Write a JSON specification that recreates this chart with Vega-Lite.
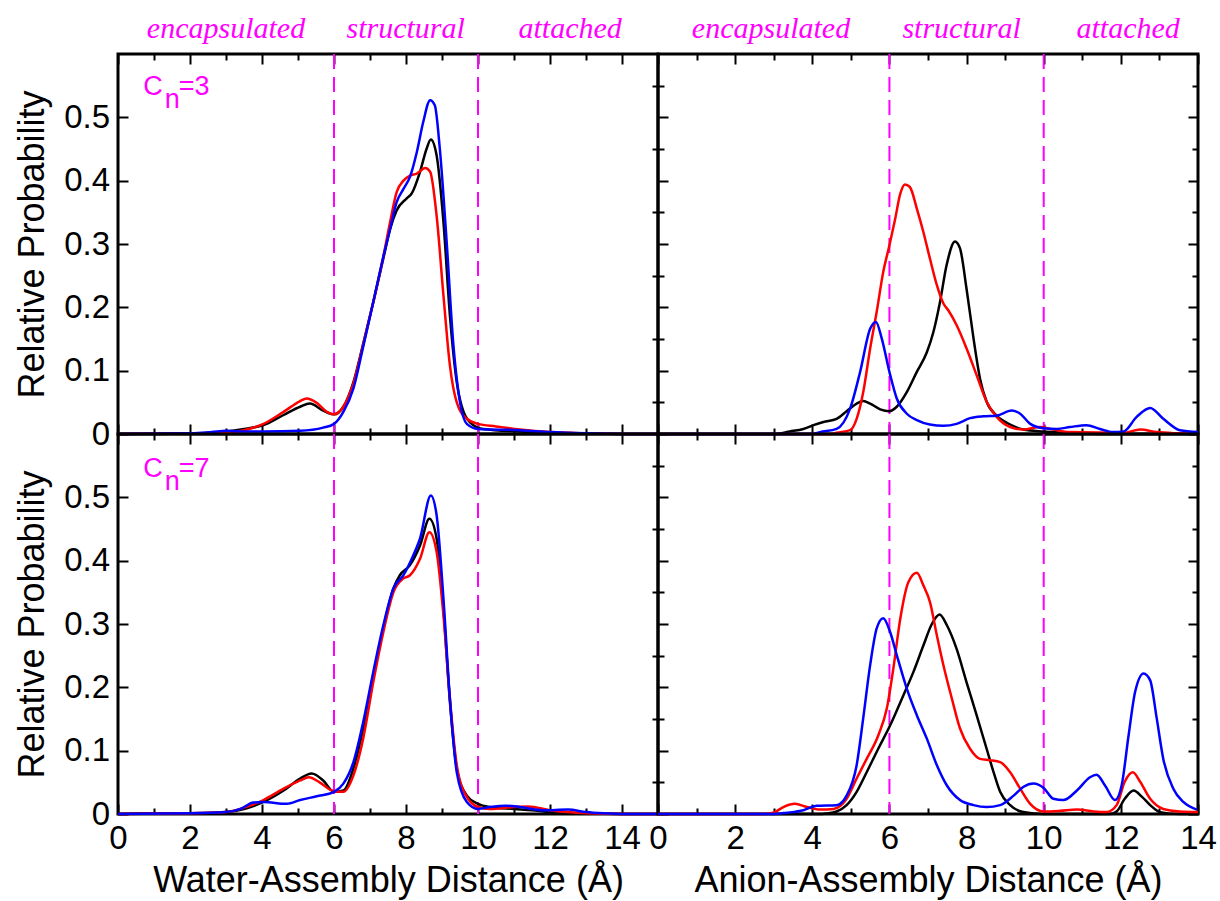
{
"$schema": "https://vega.github.io/schema/vega-lite/v6.json",
"autosize": {"type": "pad"},
"padding": {"left": 12, "top": 12, "right": 20, "bottom": 4},
"background": "white",
"config": {
  "view": {"stroke": "#000000", "strokeWidth": 3},
  "axis": {"domain": false, "ticks": false, "grid": true, "gridColor": "#000000", "gridWidth": 2, "gridOpacity": 1, "labelFont": "Liberation Sans", "labelFontSize": 33, "labelColor": "#000000", "titleFont": "Liberation Sans", "titleFontSize": 36, "titleColor": "#000000", "titleFontWeight": "normal", "labelFlush": false, "labelOverlap": false},
  "axisX": {"grid": true, "gridColor": "#000000", "gridWidth": 2, "gridOpacity": 1, "ticks": false, "domain": false},
  "axisY": {"grid": true, "gridColor": "#000000", "gridWidth": 2, "gridOpacity": 1, "ticks": false, "domain": false}
},
"datasets": {
  "bounds": [{"v": 6}, {"v": 10}],
  "regionsL": [{"label": "encapsulated", "x": 3.0}, {"label": "structural", "x": 7.99}, {"label": "attached", "x": 12.56}],
  "regionsR": [{"label": "encapsulated", "x": 2.93}, {"label": "structural", "x": 7.87}, {"label": "attached", "x": 12.19}],
  "cn3": [{"a": "C", "b": "n", "c": "=3"}],
  "cn7": [{"a": "C", "b": "n", "c": "=7"}],
  "tl": [
{"s":"s1","d":0,"p":0},{"s":"s1","d":1,"p":0},{"s":"s1","d":2,"p":0.001},{"s":"s1","d":2.5,"p":0.002},{"s":"s1","d":3,"p":0.004},{"s":"s1","d":3.5,"p":0.008},{"s":"s1","d":4.04,"p":0.014},{"s":"s1","d":4.6,"p":0.03},{"s":"s1","d":5.06,"p":0.043},{"s":"s1","d":5.33,"p":0.048},{"s":"s1","d":5.7,"p":0.037},{"s":"s1","d":6,"p":0.031},{"s":"s1","d":6.26,"p":0.043},{"s":"s1","d":6.54,"p":0.082},{"s":"s1","d":6.8,"p":0.14},{"s":"s1","d":7.09,"p":0.208},{"s":"s1","d":7.37,"p":0.277},{"s":"s1","d":7.56,"p":0.324},{"s":"s1","d":7.74,"p":0.353},{"s":"s1","d":8.02,"p":0.372},{"s":"s1","d":8.16,"p":0.38},{"s":"s1","d":8.39,"p":0.414},{"s":"s1","d":8.57,"p":0.45},{"s":"s1","d":8.69,"p":0.465},{"s":"s1","d":8.85,"p":0.44},{"s":"s1","d":9.04,"p":0.335},{"s":"s1","d":9.22,"p":0.187},{"s":"s1","d":9.41,"p":0.082},{"s":"s1","d":9.6,"p":0.035},{"s":"s1","d":9.87,"p":0.014},{"s":"s1","d":10.15,"p":0.008},{"s":"s1","d":11.17,"p":0.004},{"s":"s1","d":12,"p":0.002},{"s":"s1","d":13,"p":0.001},{"s":"s1","d":14,"p":0},{"s":"s1","d":15,"p":0},
{"s":"s2","d":0,"p":0},{"s":"s2","d":2,"p":0.001},{"s":"s2","d":3,"p":0.002},{"s":"s2","d":3.5,"p":0.006},{"s":"s2","d":4.04,"p":0.016},{"s":"s2","d":4.6,"p":0.035},{"s":"s2","d":5.06,"p":0.052},{"s":"s2","d":5.24,"p":0.056},{"s":"s2","d":5.5,"p":0.05},{"s":"s2","d":5.8,"p":0.035},{"s":"s2","d":6,"p":0.031},{"s":"s2","d":6.26,"p":0.043},{"s":"s2","d":6.54,"p":0.08},{"s":"s2","d":6.8,"p":0.138},{"s":"s2","d":7.09,"p":0.208},{"s":"s2","d":7.37,"p":0.28},{"s":"s2","d":7.56,"p":0.335},{"s":"s2","d":7.74,"p":0.382},{"s":"s2","d":7.93,"p":0.4},{"s":"s2","d":8.11,"p":0.408},{"s":"s2","d":8.3,"p":0.411},{"s":"s2","d":8.53,"p":0.42},{"s":"s2","d":8.67,"p":0.414},{"s":"s2","d":8.85,"p":0.345},{"s":"s2","d":9.04,"p":0.219},{"s":"s2","d":9.22,"p":0.108},{"s":"s2","d":9.41,"p":0.05},{"s":"s2","d":9.69,"p":0.024},{"s":"s2","d":10,"p":0.016},{"s":"s2","d":10.5,"p":0.012},{"s":"s2","d":11.17,"p":0.007},{"s":"s2","d":12,"p":0.003},{"s":"s2","d":13,"p":0.001},{"s":"s2","d":14,"p":0},{"s":"s2","d":15,"p":0},
{"s":"s3","d":0,"p":0},{"s":"s3","d":2,"p":0.001},{"s":"s3","d":2.6,"p":0.003},{"s":"s3","d":3,"p":0.005},{"s":"s3","d":3.5,"p":0.004},{"s":"s3","d":4.04,"p":0.004},{"s":"s3","d":5.06,"p":0.005},{"s":"s3","d":5.7,"p":0.01},{"s":"s3","d":6,"p":0.016},{"s":"s3","d":6.26,"p":0.035},{"s":"s3","d":6.54,"p":0.072},{"s":"s3","d":6.8,"p":0.135},{"s":"s3","d":7.09,"p":0.208},{"s":"s3","d":7.37,"p":0.28},{"s":"s3","d":7.56,"p":0.324},{"s":"s3","d":7.74,"p":0.366},{"s":"s3","d":7.93,"p":0.387},{"s":"s3","d":8.11,"p":0.406},{"s":"s3","d":8.3,"p":0.445},{"s":"s3","d":8.48,"p":0.493},{"s":"s3","d":8.67,"p":0.527},{"s":"s3","d":8.8,"p":0.519},{"s":"s3","d":8.94,"p":0.45},{"s":"s3","d":9.13,"p":0.303},{"s":"s3","d":9.31,"p":0.145},{"s":"s3","d":9.5,"p":0.05},{"s":"s3","d":9.69,"p":0.016},{"s":"s3","d":10,"p":0.008},{"s":"s3","d":11.17,"p":0.006},{"s":"s3","d":12,"p":0.003},{"s":"s3","d":13,"p":0.001},{"s":"s3","d":14,"p":0},{"s":"s3","d":15,"p":0}
  ],
  "bl": [
{"s":"s1","d":0,"p":0},{"s":"s1","d":1,"p":0.001},{"s":"s1","d":2,"p":0.001},{"s":"s1","d":3,"p":0.003},{"s":"s1","d":3.5,"p":0.008},{"s":"s1","d":4.04,"p":0.019},{"s":"s1","d":4.6,"p":0.037},{"s":"s1","d":5.06,"p":0.056},{"s":"s1","d":5.38,"p":0.064},{"s":"s1","d":5.7,"p":0.053},{"s":"s1","d":6,"p":0.035},{"s":"s1","d":6.26,"p":0.037},{"s":"s1","d":6.54,"p":0.072},{"s":"s1","d":6.81,"p":0.135},{"s":"s1","d":7.09,"p":0.219},{"s":"s1","d":7.37,"p":0.293},{"s":"s1","d":7.65,"p":0.356},{"s":"s1","d":7.83,"p":0.377},{"s":"s1","d":8.11,"p":0.393},{"s":"s1","d":8.39,"p":0.424},{"s":"s1","d":8.65,"p":0.466},{"s":"s1","d":8.85,"p":0.435},{"s":"s1","d":9.04,"p":0.324},{"s":"s1","d":9.22,"p":0.177},{"s":"s1","d":9.41,"p":0.072},{"s":"s1","d":9.69,"p":0.029},{"s":"s1","d":10,"p":0.016},{"s":"s1","d":10.33,"p":0.011},{"s":"s1","d":11,"p":0.008},{"s":"s1","d":11.5,"p":0.006},{"s":"s1","d":12,"p":0.003},{"s":"s1","d":13,"p":0.001},{"s":"s1","d":14,"p":0},{"s":"s1","d":15,"p":0},
{"s":"s2","d":0,"p":0},{"s":"s2","d":2,"p":0.001},{"s":"s2","d":3,"p":0.003},{"s":"s2","d":3.5,"p":0.01},{"s":"s2","d":4.04,"p":0.022},{"s":"s2","d":4.6,"p":0.04},{"s":"s2","d":5.06,"p":0.053},{"s":"s2","d":5.3,"p":0.058},{"s":"s2","d":5.6,"p":0.05},{"s":"s2","d":6,"p":0.036},{"s":"s2","d":6.26,"p":0.035},{"s":"s2","d":6.54,"p":0.061},{"s":"s2","d":6.81,"p":0.119},{"s":"s2","d":7.09,"p":0.208},{"s":"s2","d":7.37,"p":0.287},{"s":"s2","d":7.65,"p":0.35},{"s":"s2","d":7.93,"p":0.372},{"s":"s2","d":8.11,"p":0.377},{"s":"s2","d":8.39,"p":0.403},{"s":"s2","d":8.65,"p":0.445},{"s":"s2","d":8.85,"p":0.414},{"s":"s2","d":9.04,"p":0.314},{"s":"s2","d":9.22,"p":0.182},{"s":"s2","d":9.41,"p":0.077},{"s":"s2","d":9.69,"p":0.027},{"s":"s2","d":10,"p":0.011},{"s":"s2","d":10.33,"p":0.008},{"s":"s2","d":11,"p":0.011},{"s":"s2","d":11.4,"p":0.012},{"s":"s2","d":12,"p":0.006},{"s":"s2","d":12.5,"p":0.003},{"s":"s2","d":13,"p":0.001},{"s":"s2","d":14,"p":0},{"s":"s2","d":15,"p":0},
{"s":"s3","d":0,"p":0},{"s":"s3","d":2,"p":0.001},{"s":"s3","d":3,"p":0.003},{"s":"s3","d":3.4,"p":0.008},{"s":"s3","d":3.76,"p":0.018},{"s":"s3","d":4.04,"p":0.019},{"s":"s3","d":4.69,"p":0.016},{"s":"s3","d":5.06,"p":0.022},{"s":"s3","d":5.52,"p":0.028},{"s":"s3","d":6,"p":0.035},{"s":"s3","d":6.26,"p":0.048},{"s":"s3","d":6.54,"p":0.082},{"s":"s3","d":6.81,"p":0.145},{"s":"s3","d":7.09,"p":0.224},{"s":"s3","d":7.37,"p":0.298},{"s":"s3","d":7.65,"p":0.356},{"s":"s3","d":7.93,"p":0.377},{"s":"s3","d":8.2,"p":0.408},{"s":"s3","d":8.39,"p":0.435},{"s":"s3","d":8.69,"p":0.503},{"s":"s3","d":8.85,"p":0.472},{"s":"s3","d":9.04,"p":0.34},{"s":"s3","d":9.22,"p":0.182},{"s":"s3","d":9.41,"p":0.066},{"s":"s3","d":9.69,"p":0.019},{"s":"s3","d":10,"p":0.008},{"s":"s3","d":10.33,"p":0.011},{"s":"s3","d":10.8,"p":0.013},{"s":"s3","d":11.17,"p":0.011},{"s":"s3","d":11.8,"p":0.006},{"s":"s3","d":12.5,"p":0.007},{"s":"s3","d":13,"p":0.003},{"s":"s3","d":13.5,"p":0.001},{"s":"s3","d":14,"p":0},{"s":"s3","d":15,"p":0}
  ],
  "tr": [
{"s":"s1","d":0,"p":0},{"s":"s1","d":3,"p":0},{"s":"s1","d":3.42,"p":0.004},{"s":"s1","d":3.77,"p":0.008},{"s":"s1","d":4.03,"p":0.014},{"s":"s1","d":4.29,"p":0.019},{"s":"s1","d":4.63,"p":0.024},{"s":"s1","d":4.89,"p":0.036},{"s":"s1","d":5.15,"p":0.048},{"s":"s1","d":5.32,"p":0.052},{"s":"s1","d":5.5,"p":0.048},{"s":"s1","d":5.76,"p":0.039},{"s":"s1","d":6,"p":0.036},{"s":"s1","d":6.19,"p":0.043},{"s":"s1","d":6.45,"p":0.066},{"s":"s1","d":6.71,"p":0.098},{"s":"s1","d":6.97,"p":0.129},{"s":"s1","d":7.14,"p":0.161},{"s":"s1","d":7.31,"p":0.208},{"s":"s1","d":7.48,"p":0.266},{"s":"s1","d":7.7,"p":0.304},{"s":"s1","d":7.83,"p":0.293},{"s":"s1","d":8,"p":0.229},{"s":"s1","d":8.18,"p":0.151},{"s":"s1","d":8.35,"p":0.087},{"s":"s1","d":8.52,"p":0.051},{"s":"s1","d":8.78,"p":0.029},{"s":"s1","d":9.13,"p":0.015},{"s":"s1","d":9.47,"p":0.007},{"s":"s1","d":10,"p":0.004},{"s":"s1","d":10.68,"p":0.002},{"s":"s1","d":11.5,"p":0},{"s":"s1","d":14,"p":0},
{"s":"s2","d":0,"p":0},{"s":"s2","d":4.5,"p":0},{"s":"s2","d":4.63,"p":0.002},{"s":"s2","d":4.98,"p":0.006},{"s":"s2","d":5.15,"p":0.024},{"s":"s2","d":5.32,"p":0.066},{"s":"s2","d":5.5,"p":0.135},{"s":"s2","d":5.67,"p":0.193},{"s":"s2","d":5.84,"p":0.256},{"s":"s2","d":6,"p":0.298},{"s":"s2","d":6.15,"p":0.34},{"s":"s2","d":6.28,"p":0.379},{"s":"s2","d":6.4,"p":0.394},{"s":"s2","d":6.53,"p":0.39},{"s":"s2","d":6.71,"p":0.356},{"s":"s2","d":6.88,"p":0.319},{"s":"s2","d":7.05,"p":0.277},{"s":"s2","d":7.23,"p":0.235},{"s":"s2","d":7.4,"p":0.206},{"s":"s2","d":7.53,"p":0.195},{"s":"s2","d":7.74,"p":0.172},{"s":"s2","d":8,"p":0.135},{"s":"s2","d":8.26,"p":0.093},{"s":"s2","d":8.52,"p":0.051},{"s":"s2","d":8.78,"p":0.027},{"s":"s2","d":9.13,"p":0.011},{"s":"s2","d":9.47,"p":0.007},{"s":"s2","d":9.9,"p":0.011},{"s":"s2","d":10.25,"p":0.007},{"s":"s2","d":10.68,"p":0.003},{"s":"s2","d":12.07,"p":0.002},{"s":"s2","d":12.5,"p":0.007},{"s":"s2","d":12.93,"p":0.003},{"s":"s2","d":13.5,"p":0.001},{"s":"s2","d":14,"p":0},
{"s":"s3","d":0,"p":0},{"s":"s3","d":4,"p":0},{"s":"s3","d":4.2,"p":0.003},{"s":"s3","d":4.63,"p":0.008},{"s":"s3","d":4.98,"p":0.04},{"s":"s3","d":5.24,"p":0.098},{"s":"s3","d":5.5,"p":0.166},{"s":"s3","d":5.65,"p":0.177},{"s":"s3","d":5.8,"p":0.151},{"s":"s3","d":6,"p":0.098},{"s":"s3","d":6.19,"p":0.056},{"s":"s3","d":6.45,"p":0.032},{"s":"s3","d":6.71,"p":0.022},{"s":"s3","d":7.05,"p":0.015},{"s":"s3","d":7.4,"p":0.013},{"s":"s3","d":7.74,"p":0.016},{"s":"s3","d":8.09,"p":0.025},{"s":"s3","d":8.44,"p":0.028},{"s":"s3","d":8.78,"p":0.029},{"s":"s3","d":9.17,"p":0.037},{"s":"s3","d":9.39,"p":0.032},{"s":"s3","d":9.65,"p":0.016},{"s":"s3","d":10,"p":0.009},{"s":"s3","d":10.34,"p":0.008},{"s":"s3","d":10.68,"p":0.011},{"s":"s3","d":11.11,"p":0.014},{"s":"s3","d":11.46,"p":0.008},{"s":"s3","d":11.8,"p":0.003},{"s":"s3","d":12.07,"p":0.004},{"s":"s3","d":12.41,"p":0.027},{"s":"s3","d":12.76,"p":0.041},{"s":"s3","d":13.1,"p":0.024},{"s":"s3","d":13.53,"p":0.006},{"s":"s3","d":14,"p":0.003}
  ],
  "br": [
{"s":"s1","d":0,"p":0},{"s":"s1","d":4.2,"p":0},{"s":"s1","d":4.37,"p":0.001},{"s":"s1","d":4.63,"p":0.004},{"s":"s1","d":4.89,"p":0.014},{"s":"s1","d":5.15,"p":0.035},{"s":"s1","d":5.41,"p":0.066},{"s":"s1","d":5.71,"p":0.103},{"s":"s1","d":6.02,"p":0.14},{"s":"s1","d":6.36,"p":0.187},{"s":"s1","d":6.62,"p":0.224},{"s":"s1","d":6.88,"p":0.266},{"s":"s1","d":7.1,"p":0.3},{"s":"s1","d":7.3,"p":0.315},{"s":"s1","d":7.49,"p":0.298},{"s":"s1","d":7.74,"p":0.261},{"s":"s1","d":8,"p":0.208},{"s":"s1","d":8.26,"p":0.156},{"s":"s1","d":8.52,"p":0.103},{"s":"s1","d":8.7,"p":0.066},{"s":"s1","d":8.87,"p":0.035},{"s":"s1","d":9.13,"p":0.014},{"s":"s1","d":9.47,"p":0.003},{"s":"s1","d":10,"p":0},{"s":"s1","d":11.7,"p":0},{"s":"s1","d":11.89,"p":0.004},{"s":"s1","d":12.1,"p":0.024},{"s":"s1","d":12.33,"p":0.037},{"s":"s1","d":12.55,"p":0.027},{"s":"s1","d":12.76,"p":0.014},{"s":"s1","d":13.02,"p":0.003},{"s":"s1","d":13.5,"p":0},{"s":"s1","d":14,"p":0},
{"s":"s2","d":0,"p":0},{"s":"s2","d":2.7,"p":0},{"s":"s2","d":2.99,"p":0.002},{"s":"s2","d":3.25,"p":0.011},{"s":"s2","d":3.55,"p":0.016},{"s":"s2","d":3.86,"p":0.011},{"s":"s2","d":4.2,"p":0.007},{"s":"s2","d":4.55,"p":0.008},{"s":"s2","d":4.89,"p":0.024},{"s":"s2","d":5.15,"p":0.056},{"s":"s2","d":5.41,"p":0.087},{"s":"s2","d":5.71,"p":0.124},{"s":"s2","d":5.93,"p":0.166},{"s":"s2","d":6.1,"p":0.229},{"s":"s2","d":6.28,"p":0.308},{"s":"s2","d":6.49,"p":0.366},{"s":"s2","d":6.71,"p":0.381},{"s":"s2","d":6.88,"p":0.361},{"s":"s2","d":7.05,"p":0.335},{"s":"s2","d":7.23,"p":0.282},{"s":"s2","d":7.4,"p":0.235},{"s":"s2","d":7.62,"p":0.182},{"s":"s2","d":7.83,"p":0.135},{"s":"s2","d":8.09,"p":0.103},{"s":"s2","d":8.35,"p":0.087},{"s":"s2","d":8.61,"p":0.085},{"s":"s2","d":8.87,"p":0.082},{"s":"s2","d":9.13,"p":0.066},{"s":"s2","d":9.39,"p":0.04},{"s":"s2","d":9.65,"p":0.016},{"s":"s2","d":10,"p":0.004},{"s":"s2","d":10.42,"p":0.005},{"s":"s2","d":10.86,"p":0.007},{"s":"s2","d":11.29,"p":0.004},{"s":"s2","d":11.63,"p":0.003},{"s":"s2","d":11.89,"p":0.014},{"s":"s2","d":12.1,"p":0.051},{"s":"s2","d":12.31,"p":0.066},{"s":"s2","d":12.5,"p":0.051},{"s":"s2","d":12.76,"p":0.024},{"s":"s2","d":13.1,"p":0.008},{"s":"s2","d":13.53,"p":0.004},{"s":"s2","d":14,"p":0.003},
{"s":"s3","d":0,"p":0},{"s":"s3","d":3,"p":0},{"s":"s3","d":3.34,"p":0.002},{"s":"s3","d":3.77,"p":0.006},{"s":"s3","d":4.11,"p":0.013},{"s":"s3","d":4.63,"p":0.014},{"s":"s3","d":4.89,"p":0.029},{"s":"s3","d":5.15,"p":0.077},{"s":"s3","d":5.32,"p":0.151},{"s":"s3","d":5.5,"p":0.235},{"s":"s3","d":5.67,"p":0.293},{"s":"s3","d":5.84,"p":0.309},{"s":"s3","d":6.02,"p":0.287},{"s":"s3","d":6.19,"p":0.251},{"s":"s3","d":6.45,"p":0.198},{"s":"s3","d":6.71,"p":0.156},{"s":"s3","d":6.97,"p":0.119},{"s":"s3","d":7.23,"p":0.077},{"s":"s3","d":7.49,"p":0.045},{"s":"s3","d":7.83,"p":0.022},{"s":"s3","d":8.18,"p":0.014},{"s":"s3","d":8.52,"p":0.011},{"s":"s3","d":8.87,"p":0.014},{"s":"s3","d":9.22,"p":0.029},{"s":"s3","d":9.48,"p":0.043},{"s":"s3","d":9.73,"p":0.048},{"s":"s3","d":10,"p":0.041},{"s":"s3","d":10.25,"p":0.024},{"s":"s3","d":10.51,"p":0.022},{"s":"s3","d":10.86,"p":0.037},{"s":"s3","d":11.2,"p":0.058},{"s":"s3","d":11.37,"p":0.062},{"s":"s3","d":11.59,"p":0.045},{"s":"s3","d":11.85,"p":0.022},{"s":"s3","d":12.02,"p":0.045},{"s":"s3","d":12.2,"p":0.124},{"s":"s3","d":12.37,"p":0.193},{"s":"s3","d":12.59,"p":0.222},{"s":"s3","d":12.76,"p":0.211},{"s":"s3","d":12.93,"p":0.151},{"s":"s3","d":13.1,"p":0.087},{"s":"s3","d":13.36,"p":0.04},{"s":"s3","d":13.62,"p":0.019},{"s":"s3","d":13.97,"p":0.007}
  ]
},
"concat": [
  {
    "width": 540, "height": 380,
    "data": {"name": "tl"},
    "layer": [
      {"data": {"name": "bounds"}, "mark": {"type": "rule", "color": "#ff00ff", "strokeWidth": 2, "strokeDash": [15, 8]},
       "encoding": {"x": {"field": "v", "type": "quantitative", "scale": {"domain": [0, 15], "nice": false}, "axis": null}}},
      {"mark": {"type": "line", "strokeWidth": 2.5, "interpolate": "monotone"},
       "encoding": {
         "x": {"field": "d", "type": "quantitative", "scale": {"domain": [0, 15], "nice": false}, "axis": {"orient": "bottom", "values": [0, 2, 4, 6, 8, 10, 12, 14], "ticks": false, "grid": true, "gridColor": "#000000", "gridWidth": 2, "gridOpacity": 1, "gridDash": [10, 360, 10, 2000], "labels": false, "title": null}},
         "y": {"field": "p", "type": "quantitative", "scale": {"domain": [0, 0.6], "nice": false}, "axis": {"orient": "left", "values": [0, 0.1, 0.2, 0.3, 0.4, 0.5], "format": ".1~f", "ticks": false, "grid": true, "gridColor": "#000000", "gridWidth": 2, "gridOpacity": 1, "gridDash": [10, 2000], "labelPadding": 8.5, "title": "Relative Probability", "titleX": -75, "titleY": 190, "titleBaseline": "alphabetic"}},
         "color": {"field": "s", "type": "nominal", "scale": {"domain": ["s1", "s2", "s3"], "range": ["#000000", "#ff0000", "#0000ff"]}, "legend": null}}},
      {"mark": {"type": "line", "opacity": 0},
       "encoding": {
         "x": {"field": "d", "type": "quantitative", "scale": {"domain": [0, 15], "nice": false}, "axis": {"orient": "top", "values": [1, 3, 5, 7, 9, 11, 13], "ticks": false, "grid": true, "gridColor": "#000000", "gridWidth": 2, "gridOpacity": 1, "gridDash": [6, 368, 6, 2000], "labels": false, "title": null}},
         "y": {"field": "p", "type": "quantitative", "scale": {"domain": [0, 0.6], "nice": false}, "axis": {"orient": "right", "values": [0.05, 0.15, 0.25, 0.35, 0.45, 0.55], "ticks": false, "grid": true, "gridColor": "#000000", "gridWidth": 2, "gridOpacity": 1, "gridDash": [6, 2000], "labels": false, "title": null}},
         "detail": {"field": "s"}}},
      {"data": {"name": "regionsL"}, "mark": {"type": "text", "font": "Liberation Serif", "fontStyle": "italic", "fontSize": 30, "color": "#ff00ff", "align": "center", "baseline": "alphabetic"},
       "encoding": {"x": {"field": "x", "type": "quantitative", "scale": {"domain": [0, 15], "nice": false}, "axis": null}, "y": {"datum": 0.6253, "type": "quantitative", "scale": {"domain": [0, 0.6], "nice": false}, "axis": null}, "text": {"field": "label"}}},
      {"data": {"name": "cn3"}, "mark": {"type": "text", "font": "Liberation Sans", "fontSize": 27, "color": "#ff00ff", "align": "left", "baseline": "alphabetic"},
       "encoding": {"x": {"datum": 0.7, "type": "quantitative", "scale": {"domain": [0, 15], "nice": false}, "axis": null}, "y": {"datum": 0.535, "type": "quantitative", "scale": {"domain": [0, 0.6], "nice": false}, "axis": null}, "text": {"field": "a"}}},
      {"data": {"name": "cn3"}, "mark": {"type": "text", "font": "Liberation Sans", "fontSize": 27, "color": "#ff00ff", "align": "left", "baseline": "alphabetic", "dx": 21.5, "dy": 13},
       "encoding": {"x": {"datum": 0.7, "type": "quantitative", "scale": {"domain": [0, 15], "nice": false}, "axis": null}, "y": {"datum": 0.535, "type": "quantitative", "scale": {"domain": [0, 0.6], "nice": false}, "axis": null}, "text": {"field": "b"}}},
      {"data": {"name": "cn3"}, "mark": {"type": "text", "font": "Liberation Sans", "fontSize": 27, "color": "#ff00ff", "align": "left", "baseline": "alphabetic", "dx": 35.5},
       "encoding": {"x": {"datum": 0.7, "type": "quantitative", "scale": {"domain": [0, 15], "nice": false}, "axis": null}, "y": {"datum": 0.535, "type": "quantitative", "scale": {"domain": [0, 0.6], "nice": false}, "axis": null}, "text": {"field": "c"}}}
    ],
    "resolve": {"axis": {"x": "independent", "y": "independent"}}
  },
  {
    "width": 540, "height": 380,
    "data": {"name": "tr"},
    "layer": [
      {"data": {"name": "bounds"}, "mark": {"type": "rule", "color": "#ff00ff", "strokeWidth": 2, "strokeDash": [15, 8]},
       "encoding": {"x": {"field": "v", "type": "quantitative", "scale": {"domain": [0, 14], "nice": false}, "axis": null}}},
      {"mark": {"type": "line", "strokeWidth": 2.5, "interpolate": "monotone"},
       "encoding": {
         "x": {"field": "d", "type": "quantitative", "scale": {"domain": [0, 14], "nice": false}, "axis": {"orient": "bottom", "values": [0, 2, 4, 6, 8, 10, 12, 14], "ticks": false, "grid": true, "gridColor": "#000000", "gridWidth": 2, "gridOpacity": 1, "gridDash": [10, 360, 10, 2000], "labels": false, "title": null}},
         "y": {"field": "p", "type": "quantitative", "scale": {"domain": [0, 0.6], "nice": false}, "axis": {"orient": "left", "values": [0, 0.1, 0.2, 0.3, 0.4, 0.5], "ticks": false, "grid": true, "gridColor": "#000000", "gridWidth": 2, "gridOpacity": 1, "gridDash": [10, 520, 10, 2000], "labels": false, "title": null}},
         "color": {"field": "s", "type": "nominal", "scale": {"domain": ["s1", "s2", "s3"], "range": ["#000000", "#ff0000", "#0000ff"]}, "legend": null}}},
      {"mark": {"type": "line", "opacity": 0},
       "encoding": {
         "x": {"field": "d", "type": "quantitative", "scale": {"domain": [0, 14], "nice": false}, "axis": {"orient": "top", "values": [1, 3, 5, 7, 9, 11, 13], "ticks": false, "grid": true, "gridColor": "#000000", "gridWidth": 2, "gridOpacity": 1, "gridDash": [6, 368, 6, 2000], "labels": false, "title": null}},
         "y": {"field": "p", "type": "quantitative", "scale": {"domain": [0, 0.6], "nice": false}, "axis": {"orient": "right", "values": [0.05, 0.15, 0.25, 0.35, 0.45, 0.55], "ticks": false, "grid": true, "gridColor": "#000000", "gridWidth": 2, "gridOpacity": 1, "gridDash": [6, 528, 6, 2000], "labels": false, "title": null}},
         "detail": {"field": "s"}}},
      {"data": {"name": "regionsR"}, "mark": {"type": "text", "font": "Liberation Serif", "fontStyle": "italic", "fontSize": 30, "color": "#ff00ff", "align": "center", "baseline": "alphabetic"},
       "encoding": {"x": {"field": "x", "type": "quantitative", "scale": {"domain": [0, 14], "nice": false}, "axis": null}, "y": {"datum": 0.6253, "type": "quantitative", "scale": {"domain": [0, 0.6], "nice": false}, "axis": null}, "text": {"field": "label"}}}
    ],
    "resolve": {"axis": {"x": "independent", "y": "independent"}}
  },
  {
    "width": 540, "height": 380,
    "data": {"name": "bl"},
    "layer": [
      {"data": {"name": "bounds"}, "mark": {"type": "rule", "color": "#ff00ff", "strokeWidth": 2, "strokeDash": [15, 8]},
       "encoding": {"x": {"field": "v", "type": "quantitative", "scale": {"domain": [0, 15], "nice": false}, "axis": null}}},
      {"mark": {"type": "line", "strokeWidth": 2.5, "interpolate": "monotone"},
       "encoding": {
         "x": {"field": "d", "type": "quantitative", "scale": {"domain": [0, 15], "nice": false}, "axis": {"orient": "bottom", "values": [0, 2, 4, 6, 8, 10, 12, 14], "ticks": false, "grid": true, "gridColor": "#000000", "gridWidth": 2, "gridOpacity": 1, "gridDash": [10, 360, 10, 2000], "labelPadding": 8.5, "title": "Water-Assembly Distance (Å)", "titleY": 77, "titleBaseline": "alphabetic"}},
         "y": {"field": "p", "type": "quantitative", "scale": {"domain": [0, 0.6], "nice": false}, "axis": {"orient": "left", "values": [0, 0.1, 0.2, 0.3, 0.4, 0.5], "format": ".1~f", "ticks": false, "grid": true, "gridColor": "#000000", "gridWidth": 2, "gridOpacity": 1, "gridDash": [10, 2000], "labelPadding": 8.5, "title": "Relative Probability", "titleX": -75, "titleY": 190, "titleBaseline": "alphabetic"}},
         "color": {"field": "s", "type": "nominal", "scale": {"domain": ["s1", "s2", "s3"], "range": ["#000000", "#ff0000", "#0000ff"]}, "legend": null}}},
      {"mark": {"type": "line", "opacity": 0},
       "encoding": {
         "x": {"field": "d", "type": "quantitative", "scale": {"domain": [0, 15], "nice": false}, "axis": {"orient": "top", "values": [1, 3, 5, 7, 9, 11, 13], "ticks": false, "grid": true, "gridColor": "#000000", "gridWidth": 2, "gridOpacity": 1, "gridDash": [6, 368, 6, 2000], "labels": false, "title": null}},
         "y": {"field": "p", "type": "quantitative", "scale": {"domain": [0, 0.6], "nice": false}, "axis": {"orient": "right", "values": [0.05, 0.15, 0.25, 0.35, 0.45, 0.55], "ticks": false, "grid": true, "gridColor": "#000000", "gridWidth": 2, "gridOpacity": 1, "gridDash": [6, 2000], "labels": false, "title": null}},
         "detail": {"field": "s"}}},
      {"data": {"name": "cn7"}, "mark": {"type": "text", "font": "Liberation Sans", "fontSize": 27, "color": "#ff00ff", "align": "left", "baseline": "alphabetic"},
       "encoding": {"x": {"datum": 0.7, "type": "quantitative", "scale": {"domain": [0, 15], "nice": false}, "axis": null}, "y": {"datum": 0.532, "type": "quantitative", "scale": {"domain": [0, 0.6], "nice": false}, "axis": null}, "text": {"field": "a"}}},
      {"data": {"name": "cn7"}, "mark": {"type": "text", "font": "Liberation Sans", "fontSize": 27, "color": "#ff00ff", "align": "left", "baseline": "alphabetic", "dx": 21.5, "dy": 13},
       "encoding": {"x": {"datum": 0.7, "type": "quantitative", "scale": {"domain": [0, 15], "nice": false}, "axis": null}, "y": {"datum": 0.532, "type": "quantitative", "scale": {"domain": [0, 0.6], "nice": false}, "axis": null}, "text": {"field": "b"}}},
      {"data": {"name": "cn7"}, "mark": {"type": "text", "font": "Liberation Sans", "fontSize": 27, "color": "#ff00ff", "align": "left", "baseline": "alphabetic", "dx": 35.5},
       "encoding": {"x": {"datum": 0.7, "type": "quantitative", "scale": {"domain": [0, 15], "nice": false}, "axis": null}, "y": {"datum": 0.532, "type": "quantitative", "scale": {"domain": [0, 0.6], "nice": false}, "axis": null}, "text": {"field": "c"}}}
    ],
    "resolve": {"axis": {"x": "independent", "y": "independent"}}
  },
  {
    "width": 540, "height": 380,
    "data": {"name": "br"},
    "layer": [
      {"data": {"name": "bounds"}, "mark": {"type": "rule", "color": "#ff00ff", "strokeWidth": 2, "strokeDash": [15, 8]},
       "encoding": {"x": {"field": "v", "type": "quantitative", "scale": {"domain": [0, 14], "nice": false}, "axis": null}}},
      {"mark": {"type": "line", "strokeWidth": 2.5, "interpolate": "monotone"},
       "encoding": {
         "x": {"field": "d", "type": "quantitative", "scale": {"domain": [0, 14], "nice": false}, "axis": {"orient": "bottom", "values": [0, 2, 4, 6, 8, 10, 12, 14], "ticks": false, "grid": true, "gridColor": "#000000", "gridWidth": 2, "gridOpacity": 1, "gridDash": [10, 360, 10, 2000], "labelPadding": 8.5, "title": "Anion-Assembly Distance (Å)", "titleY": 77, "titleBaseline": "alphabetic"}},
         "y": {"field": "p", "type": "quantitative", "scale": {"domain": [0, 0.6], "nice": false}, "axis": {"orient": "left", "values": [0, 0.1, 0.2, 0.3, 0.4, 0.5], "ticks": false, "grid": true, "gridColor": "#000000", "gridWidth": 2, "gridOpacity": 1, "gridDash": [10, 520, 10, 2000], "labels": false, "title": null}},
         "color": {"field": "s", "type": "nominal", "scale": {"domain": ["s1", "s2", "s3"], "range": ["#000000", "#ff0000", "#0000ff"]}, "legend": null}}},
      {"mark": {"type": "line", "opacity": 0},
       "encoding": {
         "x": {"field": "d", "type": "quantitative", "scale": {"domain": [0, 14], "nice": false}, "axis": {"orient": "top", "values": [1, 3, 5, 7, 9, 11, 13], "ticks": false, "grid": true, "gridColor": "#000000", "gridWidth": 2, "gridOpacity": 1, "gridDash": [6, 368, 6, 2000], "labels": false, "title": null}},
         "y": {"field": "p", "type": "quantitative", "scale": {"domain": [0, 0.6], "nice": false}, "axis": {"orient": "right", "values": [0.05, 0.15, 0.25, 0.35, 0.45, 0.55], "ticks": false, "grid": true, "gridColor": "#000000", "gridWidth": 2, "gridOpacity": 1, "gridDash": [6, 528, 6, 2000], "labels": false, "title": null}},
         "detail": {"field": "s"}}}
    ],
    "resolve": {"axis": {"x": "independent", "y": "independent"}}
  }
],
"columns": 2,
"spacing": 0,
"bounds": "flush"
}
